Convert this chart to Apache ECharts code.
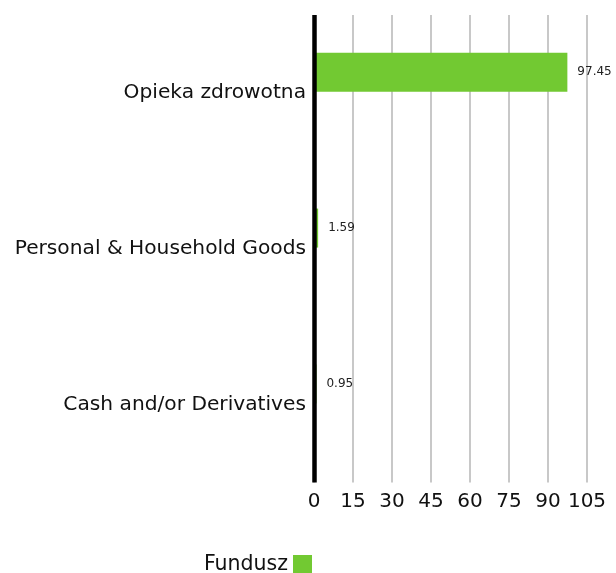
<!DOCTYPE html>
<html><head><meta charset="utf-8">
<script src="https://cdn.jsdelivr.net/npm/echarts@6/dist/echarts.min.js"></script>
<style>html,body{margin:0;padding:0;background:#fff}#c{width:616px;height:573px}</style>
</head><body><div id="c"></div>
<script>
const categories = ["Opieka zdrowotna", "Personal & Household Goods", "Cash and/or Derivatives"];
const fundValues = [97.45, 1.59, 0.95];
const placeholderValues = [null, null, null];
const xTicks = {min: 0, max: 105, interval: 15};
const seriesName = "Fundusz";

const chart = echarts.init(document.getElementById('c'), null, {renderer: 'canvas'});
const font = 'DejaVu Sans';
chart.setOption({
  animation: false,
  grid: {left: 314, right: 29, top: 15, bottom: 90.5, containLabel: false},
  xAxis: {
    type: 'value', min: xTicks.min, max: xTicks.max, interval: xTicks.interval,
    axisLine: {show: false}, axisTick: {show: false},
    splitLine: {show: true, lineStyle: {color: '#c8c8c8', width: 2}},
    axisLabel: {color: '#111', fontSize: 20, fontFamily: font, margin: 9}
  },
  yAxis: {
    type: 'category', data: categories, inverse: true, z: 10,
    axisLine: {show: true, lineStyle: {color: '#000', width: 4.5, cap: 'butt'}},
    axisTick: {show: false},
    axisLabel: {color: '#111', fontSize: 20.2, fontFamily: font, margin: 8}
  },
  legend: {
    show: true, data: [seriesName], right: 299, top: 549, align: 'right',
    icon: 'rect', itemWidth: 19, itemHeight: 19, itemGap: 8,
    textStyle: {color: '#111', fontSize: 20.5, fontFamily: font}
  },
  series: [
    {name: seriesName, type: 'bar', data: fundValues, barWidth: 39, barGap: '6%',
     itemStyle: {color: '#72c932'},
     label: {show: true, position: 'right', distance: 10, color: '#222', fontSize: 12, fontFamily: font}},
    {name: 'placeholder', type: 'bar', data: placeholderValues, barWidth: 39, barGap: '6%'}
  ]
});
</script></body></html>
